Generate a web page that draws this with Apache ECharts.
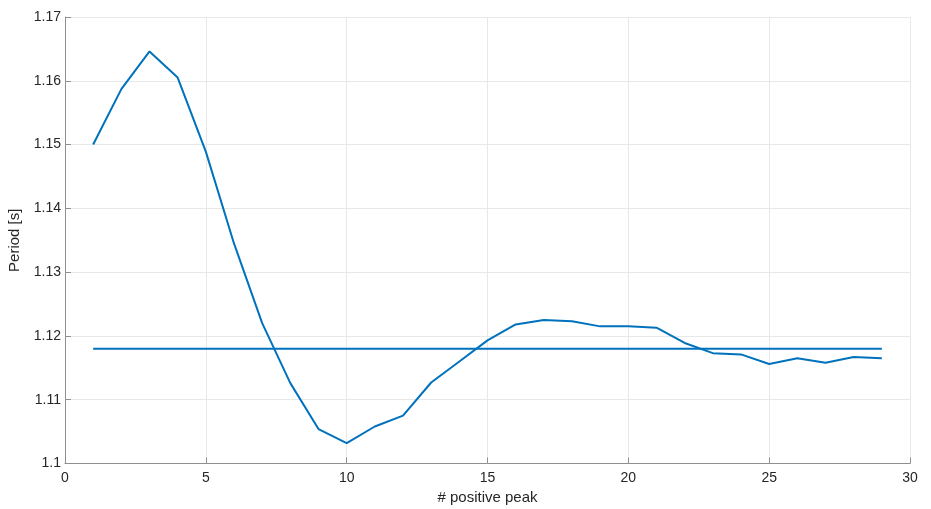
<!DOCTYPE html>
<html>
<head>
<meta charset="utf-8">
<script src="https://cdn.jsdelivr.net/npm/echarts@6/dist/echarts.min.js"></script>
<style>html,body{margin:0;padding:0;background:#fff}#c{width:931px;height:509px}</style>
</head>
<body>
<div id="c"></div>
<script>
const peaks = [1,2,3,4,5,6,7,8,9,10,11,12,13,14,15,16,17,18,19,20,21,22,23,24,25,26,27,28,29];
const periods = [1.1500,1.1587,1.1646,1.1605,1.1489,1.1345,1.1220,1.1126,1.1054,1.1032,1.1058,1.1075,1.1127,1.1160,1.1193,1.1218,1.1225,1.1223,1.1215,1.1215,1.1213,1.1189,1.1173,1.1171,1.1156,1.1165,1.1158,1.1167,1.1165];
const meanX = [1, 29];
const meanPeriod = 1.1180;

const font = 'Liberation Sans, Arial, sans-serif';
const chart = echarts.init(document.getElementById('c'), null, {renderer:'canvas'});
chart.setOption({
  animation:false,
  backgroundColor:'#fff',
  grid:{left:65,right:21,top:17,bottom:45.5,containLabel:false,outerBoundsMode:'none'},
  xAxis:{
    type:'value', min:0, max:30, interval:5,
    name:'# positive peak', nameLocation:'middle', nameGap:24,
    nameTextStyle:{fontFamily:font,fontSize:15,color:'#262626'},
    axisLine:{show:true,onZero:false,lineStyle:{color:'#8f8f8f',width:1}},
    axisTick:{show:true,inside:true,length:6,lineStyle:{color:'#8f8f8f'}},
    axisLabel:{fontFamily:font,fontSize:14,color:'#262626',margin:8},
    splitLine:{show:true,lineStyle:{color:'#e8e8e8',width:1}}
  },
  yAxis:{
    type:'value', min:1.1, max:1.17, interval:0.01,
    name:'Period [s]', nameLocation:'middle', nameGap:42, nameRotate:90,
    nameTextStyle:{fontFamily:font,fontSize:15,color:'#262626'},
    axisLine:{show:true,onZero:false,lineStyle:{color:'#8f8f8f',width:1}},
    axisTick:{show:true,inside:true,length:6,lineStyle:{color:'#8f8f8f'}},
    axisLabel:{fontFamily:font,fontSize:14,color:'#262626',margin:4,
      formatter:v=>String(Math.round(v*100)/100)},
    splitLine:{show:true,lineStyle:{color:'#e8e8e8',width:1}}
  },
  series:[
    {type:'line', data:peaks.map((x,i)=>[x,periods[i]]), showSymbol:false,
     lineStyle:{color:'#0072BD',width:2}, itemStyle:{color:'#0072BD'}},
    {type:'line', data:meanX.map(x=>[x,meanPeriod]), showSymbol:false,
     lineStyle:{color:'#0072BD',width:2}, itemStyle:{color:'#0072BD'}}
  ]
});
</script>
</body>
</html>
